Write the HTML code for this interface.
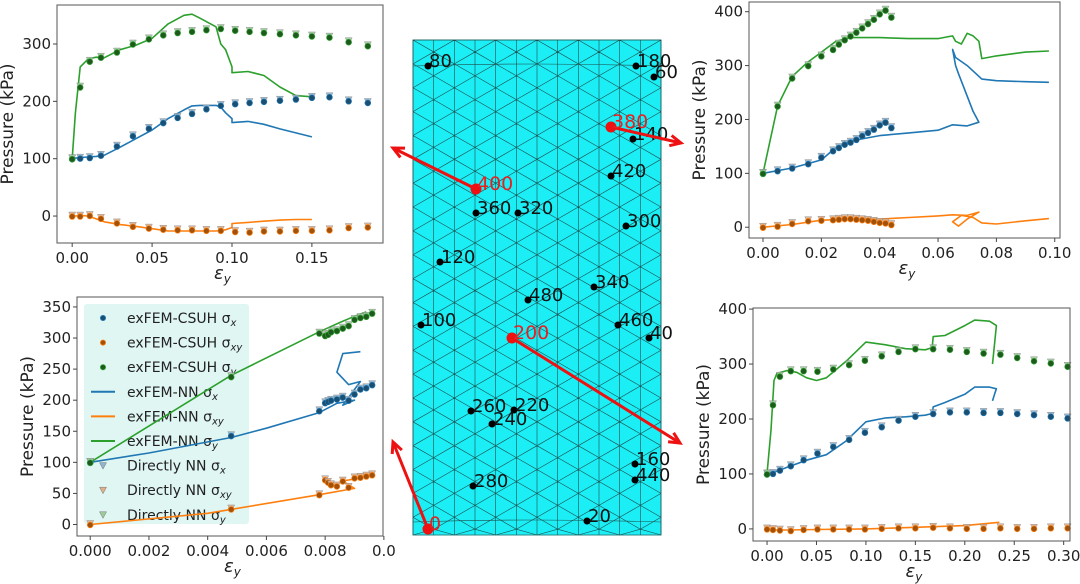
<!DOCTYPE html>
<html><head><meta charset="utf-8">
<style>
html,body{margin:0;padding:0;background:#fff;}
svg{display:block;font-family:"DejaVu Sans","Liberation Sans",sans-serif;}
</style></head>
<body>
<svg id="fig" width="1080" height="584" viewBox="0 0 1080 584" xmlns="http://www.w3.org/2000/svg">
<g id="mesh"></g>
<g id="panels"></g>
</svg>
<script>
// ---------- DATA ----------
// Top-left panel (node 400)
const tlMarkX=[0,0.005,0.011,0.018,0.028,0.038,0.048,0.057,0.066,0.075,0.084,0.093,0.102,0.111,0.12,0.13,0.14,0.15,0.161,0.173,0.185];
const tlSy=[100,225,270,277,286,300,309,316,320,322,325,327,324,322,320,318,316,314,312,304,297];
const tlSx=[100,101,102,106,122,140,153,163,172,179,187,193,196,198,200,202,204,207,208,201,198];
const tlSxy=[0,0,1,-4,-12,-18,-21,-23,-24,-24,-25,-25,-27,-28,-26,-26,-25,-25,-24,-20,-19];
const tlLineX=[0,0.002,0.005,0.01,0.015,0.02,0.03,0.04,0.05,0.06,0.07,0.075,0.08,0.09,0.093,0.096,0.1,0.1,0.11,0.12,0.13,0.14,0.15];
const tlNy=[100,180,260,274,277,276,290,298,310,335,350,352,345,330,300,290,260,250,252,245,225,210,208];
const tlNx=[100,101,102,103,104,106,120,135,150,170,185,192,193,193,190,180,170,163,165,160,152,145,138];
const tlNxy=[0,0,1,0,-5,-10,-15,-18,-22,-26,-26,-26,-26,-26,-25,-24,-20,-13,-11,-9,-7,-6,-6];
const tlXTicks=[0,0.05,0.10,0.15];
const tlXTickLabels=["0.00","0.05","0.10","0.15"];
const tlYTicks=[0,100,200,300];

// Top-right panel (node 380)
const trMarkX=[0,0.005,0.01,0.0155,0.02,0.024,0.026,0.028,0.030,0.032,0.034,0.036,0.038,0.040,0.042,0.044];
const trSy=[100,225,277,300,318,330,340,348,355,362,370,378,386,396,403,390];
const trSx=[100,105,110,118,130,142,148,154,158,163,170,176,182,190,195,185];
const trSxy=[0,2,7,12,13,14,15,16,16,15,14,13,11,9,8,5];
const trNyX=[0,0.005,0.01,0.015,0.02,0.025,0.03,0.04,0.05,0.06,0.065,0.066,0.068,0.07,0.072,0.074,0.075,0.08,0.09,0.098];
const trNy=[100,225,280,305,325,345,352,352,350,350,355,345,340,360,355,345,313,318,325,327];
const trNxX=[0,0.01,0.02,0.025,0.03,0.04,0.05,0.06,0.065,0.07,0.074,0.072,0.067,0.066,0.065,0.066,0.07,0.075,0.08,0.09,0.098];
const trNx=[100,110,125,148,160,170,175,180,190,188,195,215,285,300,330,315,300,275,272,270,269];
const trNxyX=[0,0.01,0.02,0.03,0.04,0.05,0.06,0.065,0.07,0.074,0.07,0.067,0.065,0.068,0.072,0.075,0.08,0.09,0.098];
const trNxy=[0,5,13,15,15,18,21,23,22,28,15,2,10,22,18,8,6,12,16];
const trXTicks=[0,0.02,0.04,0.06,0.08,0.10];
const trXTickLabels=["0.00","0.02","0.04","0.06","0.08","0.10"];
const trYTicks=[0,100,200,300,400];

// Bottom-left panel (node 0)
const blMarkX=[0,0.0048,0.0078,0.008,0.0081,0.0082,0.0084,0.0086,0.0088,0.009,0.0092,0.0094,0.0096];
const blSy=[100,238,308,304,306,310,312,316,320,330,333,335,340];
const blSx=[100,143,183,196,198,200,202,205,200,210,218,220,225];
const blSxy=[0,25,48,72,68,64,62,70,60,75,76,78,80];
const blNxX=[0,0.002,0.0048,0.006,0.0078,0.0084,0.009,0.0086,0.0092,0.0088,0.0084,0.0086,0.0092];
const blNx=[100,115,140,155,180,195,200,192,230,225,245,275,278];
const blNyX=[0,0.0048,0.0078,0.0085,0.009,0.0094];
const blNy=[100,240,310,325,335,342];
const blNxyX=[0,0.004,0.0078,0.009,0.0086,0.0092];
const blNxy=[0,18,48,58,70,75];
const blXTicks=[0,0.002,0.004,0.006,0.008,0.010];
const blXTickLabels=["0.000","0.002","0.004","0.006","0.008","0.0"];
const blYTicks=[0,50,100,150,200,250,300,350];

// Bottom-right panel (node 200)
const brMarkX=[0,0.006,0.013,0.024,0.037,0.051,0.067,0.083,0.099,0.116,0.133,0.15,0.168,0.185,0.202,0.219,0.236,0.253,0.27,0.287,0.304];
const brSy=[100,226,278,288,288,287,291,299,307,315,323,328,328,327,323,320,318,312,306,302,296];
const brSx=[100,101,107,115,126,138,150,163,176,186,198,205,210,213,213,212,212,210,208,205,202];
const brSxy=[0,-1,-2,-3,-1,0,0,0,0,1,2,2,3,2,1,1,2,1,1,2,2];
const brNyX=[0,0.004,0.007,0.01,0.02,0.03,0.04,0.05,0.06,0.08,0.1,0.12,0.14,0.16,0.167,0.168,0.18,0.2,0.21,0.225,0.232,0.228];
const brNy=[100,180,270,283,288,285,275,270,275,305,340,335,328,326,330,350,352,370,380,378,370,300];
const brNxX=[0,0.01,0.02,0.04,0.06,0.08,0.1,0.12,0.14,0.16,0.167,0.168,0.18,0.2,0.21,0.225,0.232,0.23,0.228];
const brNx=[100,105,112,125,135,160,195,202,204,207,210,222,230,245,258,258,255,245,233];
const brNxyX=[0,0.02,0.05,0.1,0.15,0.2,0.235];
const brNxy=[-2,-2,-1,0,3,6,12];
const brXTicks=[0,0.05,0.10,0.15,0.20,0.25,0.30];
const brXTickLabels=["0.00","0.05","0.10","0.15","0.20","0.25","0.30"];
const brYTicks=[0,100,200,300,400];

// Mesh node labels
const nodeNames=["80","180","60","140","420","360","320","300","120","340","480","100","460","40","260","220","240","160","440","280","20"];
const hiNames=["400","380","200","0"];

// ---------- DRAW ----------
const NS="http://www.w3.org/2000/svg";
function el(tag,attrs,parent){const e=document.createElementNS(NS,tag);for(const k in attrs)e.setAttribute(k,attrs[k]);parent.appendChild(e);return e;}
const C={x:"#1f77b4",xy:"#ff7f0e",y:"#2ca02c"};
const CD={x:"#1b4f72",xy:"#a0520c",y:"#1e5a1e"};
const CL={x:"#8fb4d0",xy:"#e0b08a",y:"#9ccb9c"};

function panel(name,box,xr,yr,xt,xtl,yt,markX,S,lines,legend){
  const g=el('g',{},document.getElementById('panels'));
  
  
  const [L,T,R,B]=box;
  const sx=v=>L+(v-xr[0])/(xr[1]-xr[0])*(R-L);
  const sy=v=>B-(v-yr[0])/(yr[1]-yr[0])*(B-T);
  if(legend){
    const lg=el('g',{},g);
    
    
    el('rect',{x:legend[0],y:legend[1],width:legend[2],height:legend[3],fill:'#dff6f3',rx:3},lg);
    const items=[['c','x','exFEM-CSUH σ','x'],['c','xy','exFEM-CSUH σ','xy'],['c','y','exFEM-CSUH σ','y'],['l','x','exFEM-NN σ','x'],['l','xy','exFEM-NN σ','xy'],['l','y','exFEM-NN σ','y'],['t','x','Directly NN σ','x'],['t','xy','Directly NN σ','xy'],['t','y','Directly NN σ','y']];
    items.forEach((it,i)=>{
      const yy=legend[1]+14+i*24.6;
      const e=el('g',{},lg);
      
      
      const mx=legend[0]+19;
      if(it[0]==='c') el('circle',{cx:mx,cy:yy,r:2.6,fill:CD[it[1]],stroke:C[it[1]],'stroke-width':0.8},e);
      else if(it[0]==='l') el('line',{x1:mx-12,x2:mx+12,y1:yy,y2:yy,stroke:C[it[1]],'stroke-width':2},e);
      else el('path',{d:`M${mx-3.5},${yy-3} L${mx+3.5},${yy-3} L${mx},${yy+3.5}Z`,fill:CL[it[1]],stroke:'#777','stroke-width':0.5},e);
      const t=el('text',{x:legend[0]+43,y:yy+5,'font-size':14,fill:'#222'},e);
      t.textContent=it[2];
      const s=el('tspan',{'font-size':10,dy:3,'font-style':'italic'},t);s.textContent=it[3];
    });
  }
  lines.forEach(([xs,ys,k])=>{
    const p=el('path',{d:xs.map((v,i)=>(i?'L':'M')+sx(v).toFixed(1)+','+sy(ys[i]).toFixed(1)).join(' '),fill:'none',stroke:C[k],'stroke-width':1.6,'stroke-linejoin':'round'},g);
    
    
  });
  S.forEach(([ys,k])=>{
    markX.forEach((v,i)=>{
      const x=sx(v),y=sy(ys[i]);
      const t=el('path',{d:`M${x-3.5},${y-4} L${x+3.5},${y-4} L${x},${y+3}Z`,fill:CL[k],stroke:'#888','stroke-width':0.5,opacity:0.9},g);
      
      
      const c=el('circle',{cx:x,cy:y+0.5,r:2.9,fill:CD[k],stroke:C[k],'stroke-width':0.7},g);
      
      
    });
  });
  const f=el('rect',{x:L,y:T,width:R-L,height:B-T,fill:'none',stroke:'#555','stroke-width':1},g);
  
  
  xt.forEach((v,i)=>{
    const x=sx(v);
    el('line',{x1:x,x2:x,y1:B,y2:B+4,stroke:'#444'},g);
    const t=el('text',{x:x,y:B+20,'font-size':15,'text-anchor':'middle',fill:'#222'},g);
    
    
    t.textContent=xtl[i];
  });
  yt.forEach(v=>{
    const y=sy(v);
    el('line',{x1:L-4,x2:L,y1:y,y2:y,stroke:'#444'},g);
    const t=el('text',{x:L-6,y:y+5,'font-size':15,'text-anchor':'end',fill:'#222'},g);
    
    
    t.textContent=v;
  });
  const yl=el('text',{x:0,y:0,'font-size':17,'text-anchor':'middle',fill:'#222',transform:`translate(${L-44},${(T+B)/2}) rotate(-90)`},g);
  
  
  yl.textContent='Pressure (kPa)';
  const xl=el('text',{x:(L+R)/2-6,y:B+36,'font-size':18,'font-style':'italic',fill:'#222'},g);
  
  
  xl.textContent='ε';
  const sub=el('tspan',{'font-size':12,dy:4},xl);sub.textContent='y';
}

panel('plot-node-400',[57,5,383,243],[-0.0095,0.1945],[-47,368],tlXTicks,tlXTickLabels,tlYTicks,
  tlMarkX,[[tlSx,'x'],[tlSxy,'xy'],[tlSy,'y']],[[tlLineX,tlNx,'x'],[tlLineX,tlNxy,'xy'],[tlLineX,tlNy,'y']]);
panel('plot-node-380',[749,2,1060,238],[-0.0048,0.1018],[-20,418],trXTicks,trXTickLabels,trYTicks,
  trMarkX,[[trSx,'x'],[trSxy,'xy'],[trSy,'y']],[[trNxX,trNx,'x'],[trNxyX,trNxy,'xy'],[trNyX,trNy,'y']]);
panel('plot-node-0',[77,297,383,536],[-0.00045,0.00997],[-18.5,366],blXTicks,blXTickLabels,blYTicks,
  blMarkX,[[blSx,'x'],[blSxy,'xy'],[blSy,'y']],[[blNxX,blNx,'x'],[blNxyX,blNxy,'xy'],[blNyX,blNy,'y']],[84,304,165,220]);
panel('plot-node-200',[753,308,1070,541],[-0.0142,0.3064],[-22,402],brXTicks,brXTickLabels,brYTicks,
  brMarkX,[[brSx,'x'],[brSxy,'xy'],[brSy,'y']],[[brNxX,brNx,'x'],[brNxyX,brNxy,'xy'],[brNyX,brNy,'y']]);

// ---------- MESH ----------
(function(){
  const m=document.getElementById('mesh');
  const L=413,T=40,R=661,B=535;
  el('rect',{x:L,y:T,width:R-L,height:B-T,fill:'#1beef5',stroke:'#2a8a8a','stroke-width':1},m);
  const cols=12,dx=(R-L)/cols,dy=2*dx/Math.sqrt(3);
  const clampY=y=>Math.max(T,Math.min(B,y));
  let d='';
  for(let c=0;c<=cols;c++){const x=L+c*dx;d+=`M${x},${T}L${x},${B}`;}
  for(let c=0;c<cols;c++){
    const x1=L+c*dx,x2=x1+dx;
    const off1=(c%2)?dy/2:0;
    for(let k=-1;k*dy<(B-T)+dy;k++){
      const y1=T+off1+k*dy;
      [y1-dy/2,y1+dy/2].forEach(y2=>{
        if((y1<T&&y2<T)||(y1>B&&y2>B))return;
        d+=`M${x1},${clampY(y1)}L${x2},${clampY(y2)}`;
      });
    }
  }
  el('path',{d:d,stroke:'#1f4f4f','stroke-width':0.6,fill:'none'},m);
  el('path',{d:`M${L},66Q537,62 ${R},66M${L},522Q537,518 ${R},522`,stroke:'#1f4f4f','stroke-width':0.6,fill:'none'},m);
  const pos=[[428,66],[636,66],[654,77],[633,139],[611,176],[476,213],[518,213],[626,226],[440,262],[594,287],[528,300],[421,325],[618,325],[649,338],[471,411],[514,410],[492,424],[635,464],[635,480],[473,486],[587,521]];
  nodeNames.forEach((n,i)=>{
    const g=el('g',{},m);
    
    
    el('circle',{cx:pos[i][0],cy:pos[i][1],r:3.5,fill:'#000'},g);
    const t=el('text',{x:pos[i][0]+1,y:pos[i][1]+1,'font-size':18,fill:'#111'},g);t.textContent=n;
  });
  const hp=[[476,189,393,148],[611,127,681,143],[512,338,680,443],[428,529,393,442]];
  hiNames.forEach((n,i)=>{
    const [x,y,x2,y2]=hp[i];
    const g=el('g',{},m);
    
    
    el('line',{x1:x,y1:y,x2:x2,y2:y2,stroke:'#ee1111','stroke-width':3},g);
    const ang=Math.atan2(y2-y,x2-x),h=12;
    const p1=[x2-h*Math.cos(ang-0.45),y2-h*Math.sin(ang-0.45)],p2=[x2-h*Math.cos(ang+0.45),y2-h*Math.sin(ang+0.45)];
    el('path',{d:`M${p1[0]},${p1[1]}L${x2},${y2}L${p2[0]},${p2[1]}`,stroke:'#ee1111','stroke-width':3,fill:'none'},g);
    el('circle',{cx:x,cy:y,r:5.5,fill:'#ee1111'},g);
    const t=el('text',{x:x+1,y:y+1,'font-size':19,fill:'#e82020'},g);t.textContent=n;
  });
})();
</script>
</body></html>
